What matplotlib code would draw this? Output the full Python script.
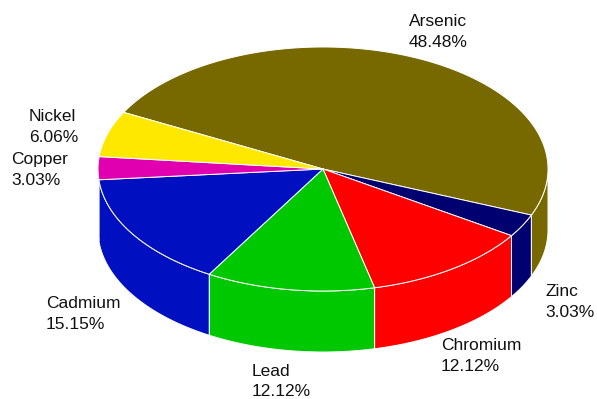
import numpy as np
import matplotlib
matplotlib.use('Agg')
import matplotlib.pyplot as plt

plt.rcParams['font.family'] = ['Liberation Sans', 'DejaVu Sans']

metals = ['Arsenic', 'Zinc', 'Chromium', 'Lead', 'Cadmium', 'Copper', 'Nickel']
shares = [48.48, 3.03, 12.12, 12.12, 15.15, 3.03, 6.06]
colors = ['#786800', '#000070', '#ff0000', '#00c800', '#0010c0', '#e000b0', '#ffe800']

# label anchor (left edge, vertical centre) in pixels
label_x = [409, 545, 441, 252, 46, 11, 29]
label_y = [32, 302, 356, 381.5, 314, 170, 127]

# pie geometry in pixels
cx, cy = 323, 169
rx, ry = 225, 122
depth = 61
start = -22.2


def arc(a0, a1, drop=0):
    t = np.radians(np.linspace(a0, a1, max(int(abs(a1 - a0)) * 2, 2) + 1))
    return cx + rx * np.cos(t), cy - ry * np.sin(t) + drop


fig = plt.figure(figsize=(5.97, 3.99), dpi=100)
ax = fig.add_axes([0, 0, 1, 1])
ax.set_xlim(0, 597)
ax.set_ylim(399, 0)
ax.axis('off')

# slices run clockwise, Arsenic first and ending at the start angle
sweeps = np.array(shares) / sum(shares) * 360
edges = start + sweeps[0] - np.r_[0, np.cumsum(sweeps)]
slices = [(edges[i], edges[i + 1], colors[i]) for i in range(len(metals))]

# rim first, only the part facing the viewer (-180 to 0 degrees)
for a0, a1, c in slices:
    lo, hi = max(a1, -180), min(a0, 0)
    if hi > lo:
        xt, yt = arc(lo, hi)
        xb, yb = arc(hi, lo, depth)
        ax.fill(np.r_[xt, xb], np.r_[yt, yb], color=c, ec='white', lw=0.7,
                joinstyle='round', zorder=2)

# top faces
for a0, a1, c in slices:
    x, y = arc(a0, a1)
    ax.fill(np.r_[cx, x], np.r_[cy, y], color=c, ec='white', lw=0.7,
            joinstyle='round', zorder=3)

for name, share, lx, ly in zip(metals, shares, label_x, label_y):
    ax.text(lx, ly, '{0}\n{1:.2f}%'.format(name, share), fontsize=12.5, color='#111111',
            ha='left', va='center', linespacing=1.5, zorder=4)

fig.savefig('out.png', dpi=100, facecolor='white')
